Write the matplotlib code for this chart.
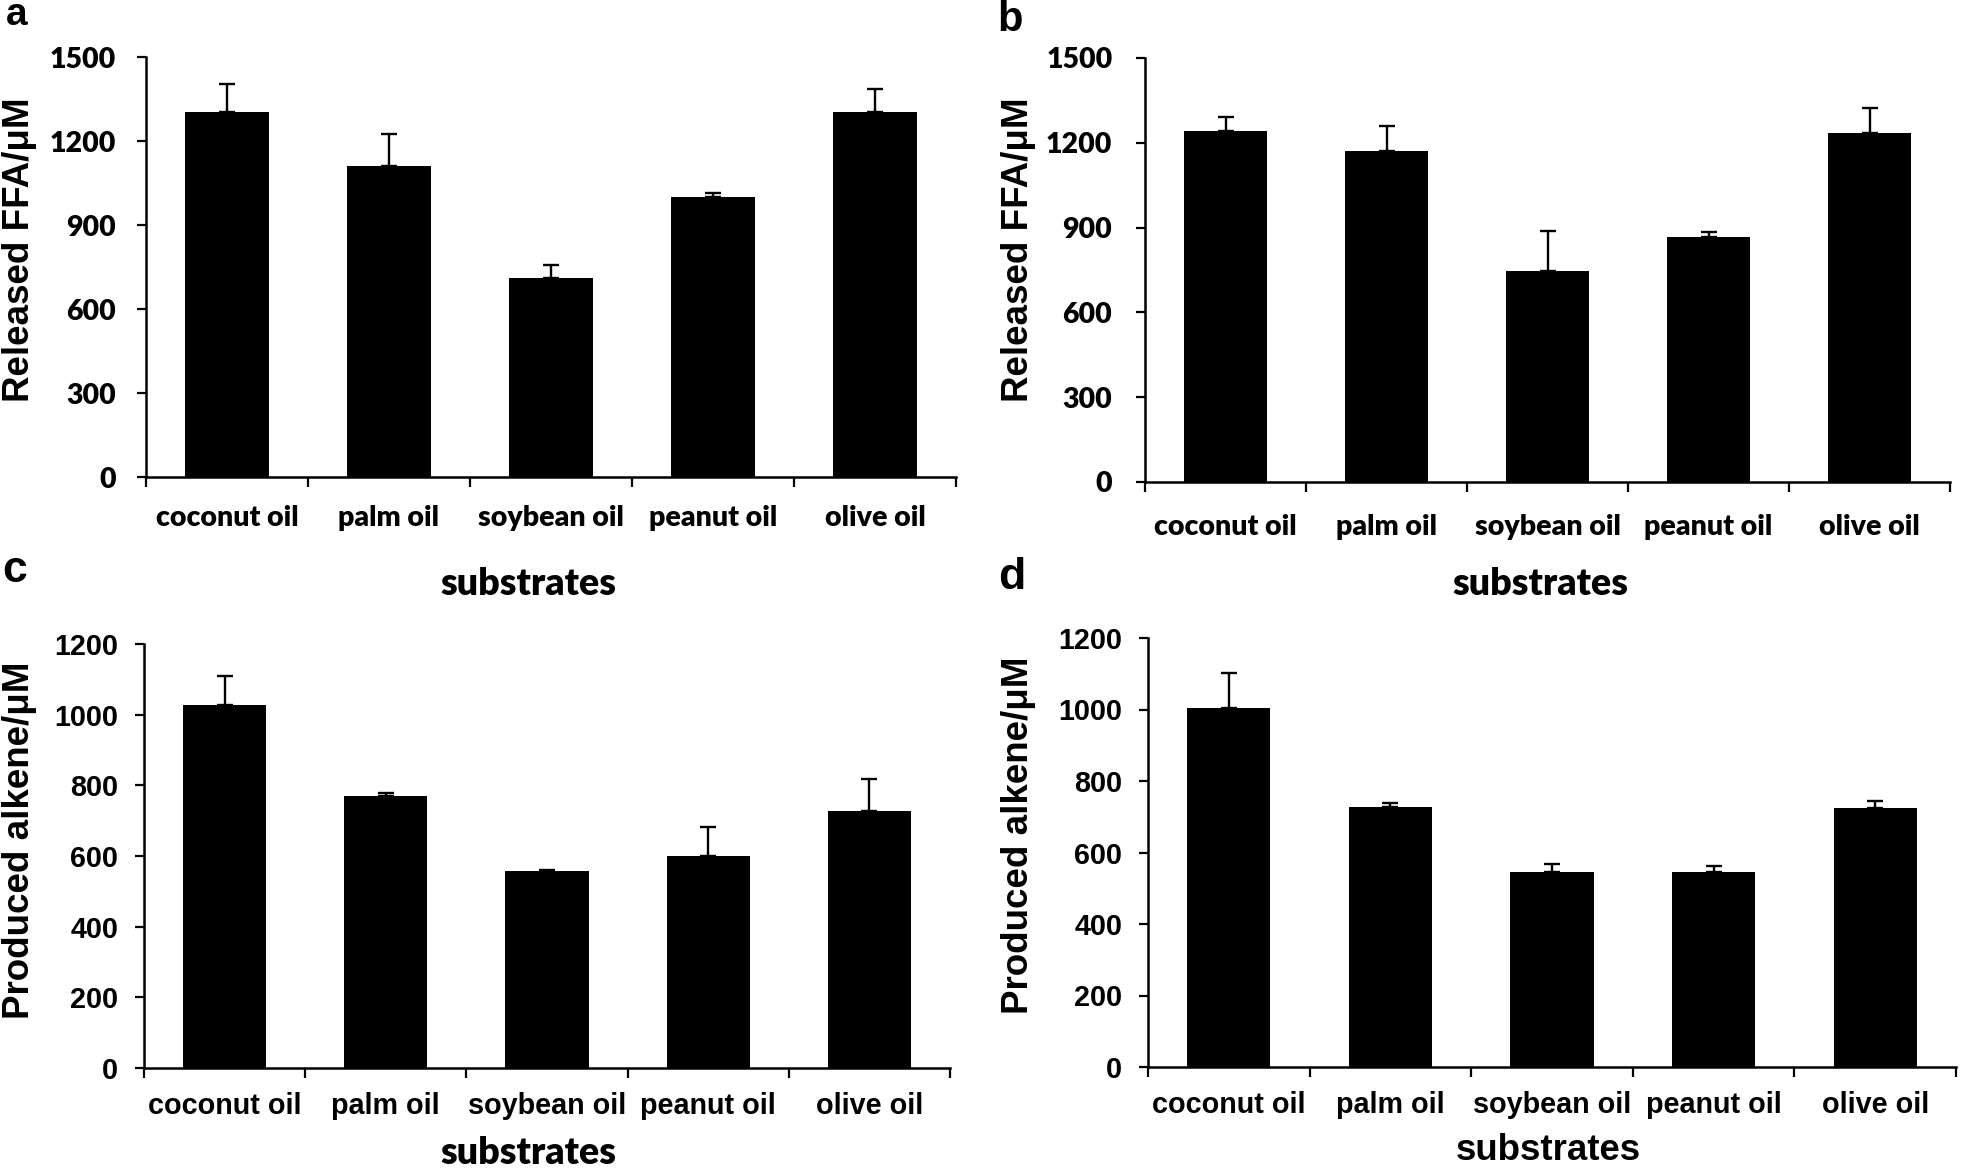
import numpy as np
import matplotlib
matplotlib.use('Agg')
import matplotlib.pyplot as plt
from matplotlib import font_manager as fm
from matplotlib.ticker import FixedLocator, NullFormatter

# ---------------- data ----------------
categories = ['coconut oil', 'palm oil', 'soybean oil', 'peanut oil', 'olive oil']

ffa_a = [1305, 1111, 712, 1000, 1305]
ffa_a_err = [97, 114, 46, 16, 80]

ffa_b = [1240, 1171, 746, 866, 1235]
ffa_b_err = [50, 89, 141, 17, 89]

alkene_c = [1027, 771, 557, 600, 726]
alkene_c_err = [83, 7, 4, 81, 92]

alkene_d = [1005, 728, 545, 545, 724]
alkene_d_err = [97, 11, 22, 18, 20]

ffa_ticks = [0, 300, 600, 900, 1200, 1500]
alkene_ticks = [0, 200, 400, 600, 800, 1000, 1200]

# ---------------- fonts ----------------
def has_font(name):
    try:
        fm.findfont(fm.FontProperties(family=name), fallback_to_default=False)
        return True
    except Exception:
        return False

ARIAL = 'Liberation Sans' if has_font('Liberation Sans') else 'DejaVu Sans'
CALIBRI = 'Lato' if has_font('Lato') else ARIAL
NARROW = 'Liberation Sans Narrow' if has_font('Liberation Sans Narrow') else ARIAL
narrow_scale = 1.0 if NARROW == 'Liberation Sans Narrow' else 0.88

W, H = 1961, 1172
fig = plt.figure(figsize=(W / 100, H / 100), dpi=100)


def panel(px, vals, errs, ticks, tickfont, ticksize, tickweight, ytickpad, xtickpad):
    x0, x1, ytop, ybot = px
    ax = fig.add_axes([x0 / W, 1 - ybot / H, (x1 - x0) / W, (ybot - ytop) / H])
    pos = np.arange(len(categories)) + 0.5
    ax.bar(pos, vals, width=0.515, color='black', edgecolor='black', linewidth=0,
           yerr=[np.zeros(len(vals)), errs], capsize=5.5,
           error_kw=dict(elinewidth=1.7, capthick=1.7, ecolor='black'), zorder=2)
    ax.set_xlim(0, len(categories))
    ax.set_ylim(0, ticks[-1])
    ax.set_yticks(ticks)
    ax.set_yticklabels([str(t) for t in ticks], fontfamily=tickfont,
                       fontweight=tickweight, fontsize=ticksize)
    ax.xaxis.set_major_locator(FixedLocator(np.arange(0, len(categories) + 1)))
    ax.xaxis.set_major_formatter(NullFormatter())
    ax.xaxis.set_minor_locator(FixedLocator(pos))
    ax.set_xticklabels(categories, minor=True, fontfamily=tickfont,
                       fontweight=tickweight, fontsize=ticksize)
    ax.tick_params(axis='x', which='minor', length=0, pad=xtickpad)
    ax.tick_params(axis='x', which='major', length=7.5, width=1.6, direction='out')
    ax.tick_params(axis='y', length=6.5, width=1.6, direction='out', pad=ytickpad)
    for s in ('top', 'right'):
        ax.spines[s].set_visible(False)
    for s in ('left', 'bottom'):
        ax.spines[s].set_linewidth(1.8)
    ax.set_facecolor('none')
    return ax


# pixel layouts: x_left, x_right, y_top, y_bottom
panel((146, 956, 57, 477), ffa_a, ffa_a_err, ffa_ticks, CALIBRI, 20.5, 'heavy', 15, 20)
panel((1145, 1950, 58, 482), ffa_b, ffa_b_err, ffa_ticks, CALIBRI, 20.5, 'heavy', 17, 23)
panel((144, 950, 644, 1068), alkene_c, alkene_c_err, alkene_ticks, NARROW,
      23.5 * narrow_scale, 'bold', 12, 17)
panel((1148, 1956, 638, 1067), alkene_d, alkene_d_err, alkene_ticks, NARROW,
      23.5 * narrow_scale, 'bold', 12, 17)


def ftext(x, y, s, **kw):
    fig.text(x / W, 1 - y / H, s, ha='center', va='center', **kw)


# y labels
ylab_ffa = 'Released FFA/\u03bcM'
ylab_alk = 'Produced alkene/\u03bcM'
ftext(20, 250, ylab_ffa, rotation=90, fontfamily=ARIAL, fontweight='bold', fontsize=26.5)
ftext(1019, 250, ylab_ffa, rotation=90, fontfamily=ARIAL, fontweight='bold', fontsize=26.5)
ftext(20, 840, ylab_alk, rotation=90, fontfamily=ARIAL, fontweight='bold', fontsize=26.5)
ftext(1019, 835, ylab_alk, rotation=90, fontfamily=ARIAL, fontweight='bold', fontsize=26.5)

# x labels
ftext(528, 584, 'substrates', fontfamily=CALIBRI, fontweight='heavy', fontsize=27)
ftext(1540, 584, 'substrates', fontfamily=CALIBRI, fontweight='heavy', fontsize=27)
ftext(528, 1153, 'substrates', fontfamily=CALIBRI, fontweight='heavy', fontsize=27)
ftext(1548, 1151, 'substrates', fontfamily=NARROW, fontweight='bold',
      fontsize=30 * narrow_scale)

# panel letters
ftext(17, 15, 'a', fontfamily=ARIAL, fontweight='bold', fontsize=28)
ftext(1010, 20, 'b', fontfamily=ARIAL, fontweight='bold', fontsize=30)
ftext(15, 570, 'c', fontfamily=ARIAL, fontweight='bold', fontsize=32)
ftext(1012, 577, 'd', fontfamily=ARIAL, fontweight='bold', fontsize=32)

fig.savefig('out.png', dpi=100, facecolor='white')
